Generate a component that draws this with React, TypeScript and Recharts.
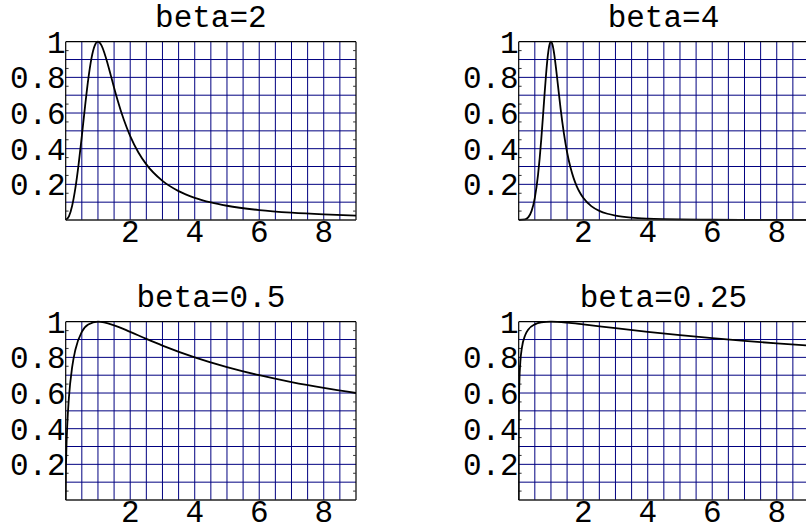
import React from 'react';
import { LineChart, Line, XAxis, YAxis, CartesianGrid, ReferenceLine } from 'recharts';

// ---- data ----
const titles = ['beta=2', 'beta=4', 'beta=0.5', 'beta=0.25'];

const xBeta2 = [0, 0.1, 0.2, 0.3, 0.4, 0.5, 0.6, 0.7, 0.8, 0.9, 1, 1.1, 1.2, 1.3, 1.4, 1.5, 1.6, 1.8, 2, 2.25, 2.5, 3, 3.5, 4, 4.5, 5, 6, 7, 8, 9];
const yBeta2 = [0, 0.02, 0.0799, 0.1786, 0.312, 0.4706, 0.6374, 0.7903, 0.9081, 0.9782, 1, 0.9821, 0.937, 0.8765, 0.8097, 0.7423, 0.6778, 0.5636, 0.4706, 0.3802, 0.312, 0.2195, 0.1622, 0.1245, 0.0985, 0.0799, 0.0555, 0.0408, 0.0312, 0.0247];

const xBeta4 = [0, 0.2, 0.3, 0.4, 0.5, 0.6, 0.65, 0.7, 0.75, 0.8, 0.85, 0.9, 0.95, 1, 1.05, 1.1, 1.15, 1.2, 1.25, 1.3, 1.35, 1.4, 1.5, 1.6, 1.7, 1.8, 1.9, 2, 2.25, 2.5, 2.75, 3, 3.5, 4, 4.5, 5, 6, 7, 8, 9];
const yBeta4 = [0, 0.0032, 0.0162, 0.0512, 0.1245, 0.2549, 0.346, 0.454, 0.5752, 0.7015, 0.8204, 0.9173, 0.9793, 1, 0.9812, 0.9315, 0.8618, 0.7825, 0.7015, 0.6238, 0.5521, 0.4876, 0.3802, 0.2982, 0.2361, 0.1888, 0.1526, 0.1245, 0.0779, 0.0512, 0.035, 0.0247, 0.0133, 0.0078, 0.0049, 0.0032, 0.0015, 0.0008, 0.0005, 0.0003];

const xBeta05 = [0, 0.005, 0.01, 0.02, 0.05, 0.1, 0.2, 0.3, 0.5, 0.7, 1, 1.5, 2, 2.5, 3, 4, 5, 6, 7, 8, 9];
const yBeta05 = [0, 0.1407, 0.198, 0.2773, 0.4259, 0.575, 0.7454, 0.8427, 0.9428, 0.9843, 1, 0.9798, 0.9428, 0.9035, 0.866, 0.8, 0.7454, 0.6999, 0.6614, 0.6285, 0.6];

const xBeta025 = [0, 0.0001, 0.001, 0.005, 0.01, 0.02, 0.05, 0.1, 0.2, 0.3, 0.5, 0.7, 1, 1.5, 2, 3, 4, 5, 6, 7, 8, 9];
const yBeta025 = [0, 0.198, 0.3448, 0.4967, 0.575, 0.6589, 0.7729, 0.8545, 0.9242, 0.9564, 0.9852, 0.996, 1, 0.9949, 0.9852, 0.9634, 0.9428, 0.9242, 0.9074, 0.8923, 0.8786, 0.866];

const xTicks = [2, 4, 6, 8];
const yTicks = [0.2, 0.4, 0.6, 0.8, 1];
const xGrid = [0.5, 1, 1.5, 2, 2.5, 3, 3.5, 4, 4.5, 5, 5.5, 6, 6.5, 7, 7.5, 8, 8.5];
const yGrid = [0.1, 0.2, 0.3, 0.4, 0.5, 0.6, 0.7, 0.8, 0.9];
const yMinor = [0.05, 0.15, 0.25, 0.35, 0.45, 0.55, 0.65, 0.75, 0.85, 0.95];

// ---- layout ----
const FONT = '"Liberation Mono", "Courier New", monospace';
const FS = 31;
const Y_W = 65.7;
const PLOT_W = 290.3;
const PLOT_H = 178.3;
const TOP = 41.7;
const CH_W = Y_W + PLOT_W + 20;
const CH_H = TOP + PLOT_H + 40;

const panels = [
  { title: titles[0], xs: xBeta2, ys: yBeta2, left: 0, top: 0 },
  { title: titles[1], xs: xBeta4, ys: yBeta4, left: 452.6, top: 0 },
  { title: titles[2], xs: xBeta05, ys: yBeta05, left: 0, top: 280 },
  { title: titles[3], xs: xBeta025, ys: yBeta025, left: 452.6, top: 280 },
];

function Panel({ xs, ys }: { xs: number[]; ys: number[] }) {
  const data = xs.map((x, i) => ({ x, y: ys[i] }));
  return (
    <LineChart width={CH_W} height={CH_H} data={data} margin={{ top: TOP, right: 20, bottom: 0, left: 0 }}>
      <CartesianGrid
        stroke="#000080"
        strokeWidth={1}
        verticalValues={xGrid}
        horizontalValues={yGrid}
      />
      <XAxis
        dataKey="x"
        type="number"
        domain={[0, 9]}
        ticks={xTicks}
        interval={0}
        allowDataOverflow
        tickLine={false}
        tickSize={0}
        tickMargin={0}
        height={40}
        axisLine={{ stroke: '#222', strokeWidth: 1.5 }}
        tick={{ fontFamily: FONT, fontSize: FS, fill: '#000' }}
      />
      <YAxis
        type="number"
        domain={[0, 1]}
        ticks={yTicks}
        interval={0}
        width={Y_W}
        tickLine={false}
        tickSize={0}
        tickMargin={0}
        axisLine={{ stroke: '#000', strokeWidth: 1.2 }}
        tickFormatter={(v: number) => (v === 1 ? '1' : v.toFixed(1))}
        tick={{ fontFamily: FONT, fontSize: FS, fill: '#000' }}
      />
      <ReferenceLine y={1} stroke="#000" strokeWidth={1.2} />
      <ReferenceLine x={9} stroke="#000" strokeWidth={1.2} />
      {yMinor.map((v) => (
        <ReferenceLine key={'l' + v} segment={[{ x: 0, y: v }, { x: 0.09, y: v }]} stroke="#333" strokeWidth={1} />
      ))}
      {yMinor.map((v) => (
        <ReferenceLine key={'r' + v} segment={[{ x: 8.91, y: v }, { x: 9, y: v }]} stroke="#333" strokeWidth={1} />
      ))}
      <Line
        dataKey="y"
        type="monotone"
        stroke="#000"
        strokeWidth={1.8}
        dot={false}
        activeDot={false}
        isAnimationActive={false}
      />
    </LineChart>
  );
}

export default function App() {
  return (
    <div
      style={{
        position: 'absolute',
        left: 0,
        top: 0,
        width: 806,
        height: 529,
        overflow: 'hidden',
        background: '#fff',
      }}
    >
      {panels.map((p, i) => (
        <div key={i} style={{ position: 'absolute', left: p.left, top: p.top, width: CH_W, height: CH_H }}>
          <Panel xs={p.xs} ys={p.ys} />
        </div>
      ))}
      <svg width={806} height={529} style={{ position: 'absolute', left: 0, top: 0, pointerEvents: 'none' }}>
        {panels.map((p, i) => (
          <text
            key={i}
            x={p.left + Y_W + PLOT_W / 2}
            y={p.top + 26.7}
            textAnchor="middle"
            fontFamily={FONT}
            fontSize={FS}
            fill="#000"
          >
            {p.title}
          </text>
        ))}
      </svg>
    </div>
  );
}
